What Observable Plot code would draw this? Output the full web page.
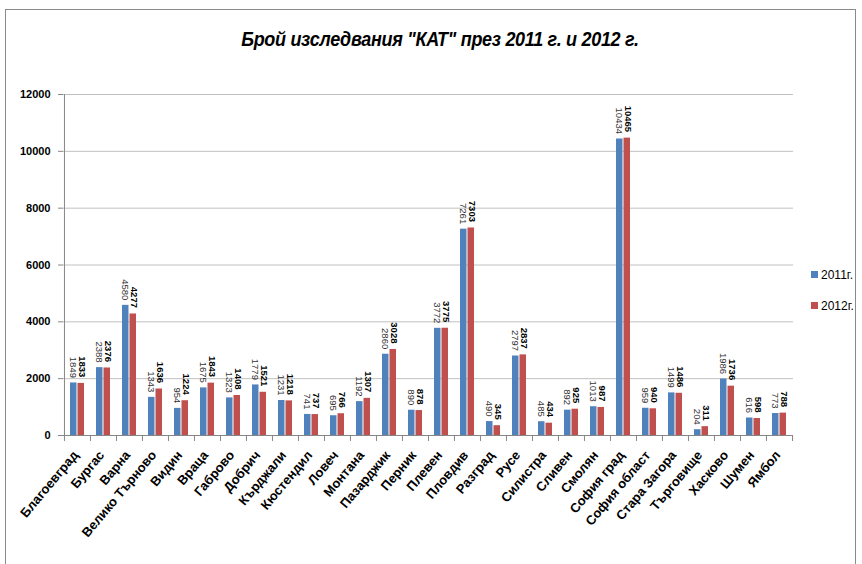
<!DOCTYPE html>
<html>
<head>
<meta charset="utf-8">
<script src="https://cdn.jsdelivr.net/npm/d3@7"></script>
<script src="https://cdn.jsdelivr.net/npm/@observablehq/plot@0.6"></script>
<style>
  html, body { margin: 0; padding: 0; background: #fff; }
  #wrap { position: relative; width: 862px; height: 564px; overflow: hidden; font-family: "Liberation Sans", Arial, sans-serif; }
  #frame { position: absolute; left: 5px; top: 9px; width: 851px; height: 600px; border: 1px solid #8a8a8a; box-sizing: border-box; }
  #title { position: absolute; left: 0; top: 28px; width: 880px; text-align: center; font-size: 18px; font-weight: bold; font-style: italic; color: #000; letter-spacing: -0.3px; transform: scaleY(1.15); transform-origin: center top; }
  #chart { position: absolute; left: 0; top: 72px; }
  #legend { position: absolute; left: 811px; top: 259px; font-size: 12px; color: #000; }
  .li { display: flex; align-items: center; height: 31px; }
  .sw { width: 7px; height: 7px; margin-right: 3px; }
</style>
</head>
<body>
<div id="wrap">
  <div id="frame"></div>
  <div id="title">Брой изследвания "КАТ" през 2011 г. и 2012 г.</div>
  <div id="chart"></div>
  <div id="legend"></div>
</div>
<script>
const categories = ["Благоевград","Бургас","Варна","Велико Търново","Видин","Враца","Габрово","Добрич","Кърджали","Кюстендил","Ловеч","Монтана","Пазарджик","Перник","Плевен","Пловдив","Разград","Русе","Силистра","Сливен","Смолян","София град","София област","Стара Загора","Търговище","Хасково","Шумен","Ямбол"];
const values2011 = [1849,2388,4580,1343,954,1675,1323,1779,1231,741,695,1192,2860,890,3772,7261,490,2797,485,892,1013,10434,959,1499,204,1986,616,773];
const values2012 = [1833,2376,4277,1636,1224,1843,1408,1521,1218,737,766,1307,3028,878,3775,7303,345,2837,434,925,987,10465,940,1486,311,1736,598,788];
const seriesNames = ["2011г.","2012г."];
const seriesColors = ["#4F81BD","#C0504D"];
const yTicks = [0,2000,4000,6000,8000,10000,12000];

const rows2011 = categories.map((c,i) => ({cat: c, year: seriesNames[0], value: values2011[i]}));
const rows2012 = categories.map((c,i) => ({cat: c, year: seriesNames[1], value: values2012[i]}));

const W = 862, ML = 63, MR = 69;
const bw = (W - ML - MR) / categories.length;

const chart = Plot.plot({
  width: W, height: 492,
  marginTop: 22, marginBottom: 129, marginLeft: ML, marginRight: MR,
  style: {fontFamily: "'Liberation Sans', Arial, sans-serif", background: "transparent", color: "#000"},
  x: {domain: categories, padding: 0, axis: null},
  y: {domain: [0, 12000], axis: null},
  color: {domain: seriesNames, range: seriesColors},
  marks: [
    Plot.ruleY(yTicks.filter(t => t > 0), {stroke: "#c0c0c0", strokeWidth: 1}),
    Plot.axisY(yTicks, {label: null, tickSize: 5, tickPadding: 8, tickFormat: d => String(d), fontWeight: "bold", fontSize: 11, stroke: "#868686"}),
    Plot.barY(rows2011, {x: "cat", y: "value", fill: "year", insetLeft: 6, insetRight: 13.5}),
    Plot.barY(rows2012, {x: "cat", y: "value", fill: "year", insetLeft: 13.5, insetRight: 6}),
    Plot.ruleY([0], {stroke: "#868686"}),
    Plot.ruleX([categories[0]], {y1: 0, y2: 12000, dx: -bw/2, stroke: "#868686"}),
    Plot.axisX(categories, {label: null, tickSize: 6, tickFormat: () => "", dx: -bw/2, stroke: "#868686"}),
    Plot.axisX([categories[categories.length-1]], {label: null, tickSize: 6, tickFormat: () => "", dx: bw/2, stroke: "#868686"}),
    Plot.text(rows2011, {x: "cat", y: "value", text: d => String(d.value), rotate: 90, textAnchor: "end", dx: -4.5, dy: -5, fontSize: 9.5, fill: "#333"}),
    Plot.text(rows2012, {x: "cat", y: "value", text: d => String(d.value), rotate: 90, textAnchor: "end", dx: 4.5, dy: -6, fontSize: 9.5, fontWeight: "bold", fill: "#000"}),
    Plot.text(categories, {x: d => d, frameAnchor: "bottom", text: d => d, rotate: -50, textAnchor: "end", dx: 1.5, dy: 20, fontSize: 13, fontWeight: "bold", fill: "#000"})
  ]
});
document.getElementById("chart").appendChild(chart);

const legend = document.getElementById("legend");
seriesNames.forEach((s, i) => {
  const row = document.createElement("div");
  row.className = "li";
  const sw = document.createElement("div");
  sw.className = "sw";
  sw.style.background = seriesColors[i];
  const t = document.createElement("span");
  t.textContent = s;
  row.appendChild(sw); row.appendChild(t);
  legend.appendChild(row);
});
</script>
</body>
</html>
